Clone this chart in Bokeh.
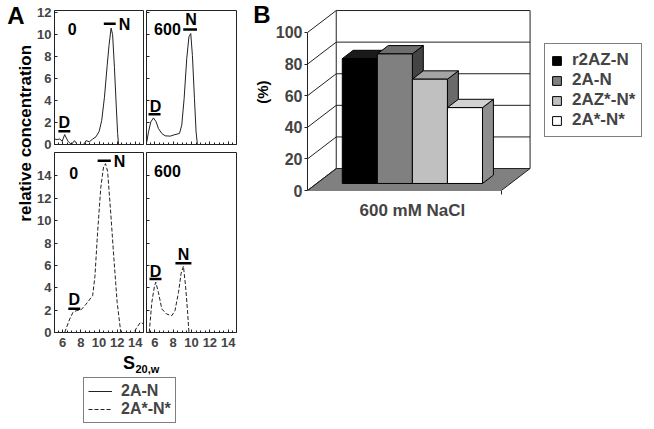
import math
from bokeh.plotting import figure
from bokeh.models import (Range1d, LinearAxis, FixedTicker, Label, Legend, LegendItem,
                          CustomJSTickFormatter)
from bokeh.layouts import row, column
from bokeh.embed import file_html
from bokeh.resources import INLINE

FONT = "Liberation Sans"

# ---------------- Panel A data (sedimentation profiles) ----------------
s_2AN_0 = [5.1, 5.4, 5.68, 5.95, 6.22, 6.59, 6.95, 7.3, 7.6, 8.03, 8.3, 8.58, 8.94, 9.31,
           9.67, 10.02, 10.3, 10.6, 10.9, 11.1, 11.33, 11.5, 11.7, 11.9, 12.05, 12.15]
c_2AN_0 = [0.5, 0.45, 0.5, 0.3, 0.9, 0.3, 0.0, 0.35, 0.0, 0.0, 0.0, 0.35, 0.25, 0.5,
           0.7, 1.2, 2.2, 4.3, 7.2, 9.0, 10.6, 10.0, 7.0, 3.5, 1.0, 0.0]

s_2AN_600 = [5.13, 5.32, 5.57, 5.86, 6.15, 6.4, 6.77, 7.13, 7.68, 8.2, 8.69, 8.94, 9.2,
             9.48, 9.72, 9.92, 10.1, 10.32, 10.5, 10.64]
c_2AN_600 = [0.24, 1.15, 2.06, 2.42, 2.06, 1.45, 1.0, 0.79, 0.76, 0.9, 1.0, 1.76, 4.2,
             7.8, 9.8, 10.1, 8.1, 4.2, 1.15, 0.0]

s_2AsNs_0 = [6.22, 6.77, 7.13, 7.49, 8.03, 8.58, 9.3, 9.55, 9.85, 10.2, 10.5, 10.72,
             10.95, 11.3, 11.65, 12.0, 12.4, 13.85, 14.2, 14.56, 14.85]
c_2AsNs_0 = [0.0, 1.2, 1.8, 1.95, 2.03, 2.54, 3.3, 5.0, 9.0, 13.0, 14.8, 15.1,
             14.4, 10.6, 6.5, 2.7, 0.0, 0.0, 0.5, 0.9, 0.8]

s_2AsNs_600 = [5.4, 5.68, 5.97, 6.11, 6.4, 6.77, 7.3, 7.85, 8.2, 8.58, 8.87, 9.12,
               9.35, 9.56, 9.72]
c_2AsNs_600 = [0.0, 2.7, 4.16, 4.5, 3.57, 2.1, 1.65, 1.5, 1.95, 3.57, 5.3, 5.93,
               4.2, 2.0, 0.0]

A_xticks = [6, 8, 10, 12, 14]
A_yticks_top = [0, 2, 4, 6, 8, 10, 12]
A_yticks_bot = [0, 2, 4, 6, 8, 10, 12, 14]
A_salt = ["0", "600"]
A_legend = ["2A-N", "2A*-N*"]

# ---------------- Panel B data ----------------
B_groups = ["r2AZ-N", "2A-N", "2AZ*-N*", "2A*-N*"]
B_values = [79, 82, 66, 48]
B_yticks = [0, 20, 40, 60, 80, 100]
B_category = "600 mM NaCl"
B_front = ["#000000", "#808080", "#c0c0c0", "#ffffff"]
B_top = ["#1a1a1a", "#6e6e6e", "#a4a4a4", "#d2d2d2"]
B_side = ["#000000", "#444444", "#6a6a6a", "#8e8e8e"]

LINE = "#222222"


def add_label(p, x, y, t, size=16, align="center", angle=0.0):
    p.add_layout(Label(x=x, y=y, text=t, text_font=FONT, text_font_style="bold",
                       text_font_size=f"{size}px", text_align=align,
                       text_baseline="middle", text_color="black", angle=angle))


def blank(width, height):
    p = figure(width=width, height=height, x_range=Range1d(0, width),
               y_range=Range1d(0, height), x_axis_type=None, y_axis_type=None,
               toolbar_location=None, output_backend="svg", min_border_left=0,
               min_border_right=0, min_border_top=0, min_border_bottom=0)
    p.outline_line_color = None
    return p


def panel(xs, ys, dash, ymax, yticks, width, height, bl, br, bt, bb, show_y, show_x):
    p = figure(width=width, height=height, x_range=Range1d(5.1, 14.9),
               y_range=Range1d(0, ymax), x_axis_type=None, y_axis_type=None,
               toolbar_location=None, output_backend="svg",
               min_border_left=bl, min_border_right=br, min_border_top=bt,
               min_border_bottom=bb)
    p.outline_line_color = LINE
    p.outline_line_width = 1
    xa = LinearAxis(ticker=FixedTicker(ticks=A_xticks,
                                       minor_ticks=[5.5 + 0.5 * k for k in range(19)]))
    xa.major_tick_in = 3
    xa.major_tick_out = 0
    xa.minor_tick_in = 2
    xa.minor_tick_out = 0
    xa.axis_line_color = LINE
    xa.major_tick_line_color = LINE
    xa.minor_tick_line_color = LINE
    xa.major_label_text_font = FONT
    xa.major_label_text_font_style = "bold"
    xa.major_label_text_font_size = "13px"
    if show_x:
        xa.major_label_standoff = 5
    else:
        xa.formatter = CustomJSTickFormatter(code="return ''")
        xa.major_label_standoff = 0
    p.add_layout(xa, "below")
    ya = LinearAxis(ticker=FixedTicker(ticks=yticks,
                                       minor_ticks=list(range(0, int(ymax) + 1))))
    ya.major_tick_in = 3
    ya.major_tick_out = 0
    ya.minor_tick_in = 0
    ya.minor_tick_out = 0
    ya.axis_line_color = LINE
    ya.major_tick_line_color = LINE
    ya.major_label_text_font = FONT
    ya.major_label_text_font_style = "bold"
    ya.major_label_text_font_size = "13px"
    if show_y:
        ya.major_label_standoff = 3
    else:
        ya.formatter = CustomJSTickFormatter(code="return ''")
        ya.major_label_standoff = 0
    p.add_layout(ya, "left")
    if dash:
        p.line(xs, ys, line_color=LINE, line_width=1, line_dash="4 2")
    else:
        p.line(xs, ys, line_color=LINE, line_width=1)
    return p


def bars(p, segs):
    p.segment(x0=[s[0] for s in segs], x1=[s[1] for s in segs],
              y0=[s[2] for s in segs], y1=[s[2] for s in segs],
              line_color="black", line_width=2.5)


# top-left: 2A-N, 0 mM
tl = panel(s_2AN_0, c_2AN_0, False, 12.2, A_yticks_top, 110, 152, 19, 1, 10, 8, True, False)
add_label(tl, 7.06, 10.48, A_salt[0])
add_label(tl, 12.82, 10.97, "N")
add_label(tl, 6.19, 2.03, "D")
bars(tl, [(10.53, 11.84, 11.0), (5.53, 6.84, 1.21)])

# top-right: 2A-N, 600 mM
tr = panel(s_2AN_600, c_2AN_600, False, 12.2, A_yticks_top, 96, 152, 2, 4, 10, 8, False, False)
add_label(tr, 7.38, 10.48, A_salt[1])
add_label(tr, 9.94, 11.39, "N")
add_label(tr, 6.08, 3.48, "D")
bars(tr, [(9.1, 10.6, 10.48), (5.32, 6.63, 2.75)])

# bottom-left: 2A*-N*, 0 mM
bl = panel(s_2AsNs_0, c_2AsNs_0, True, 16.1, A_yticks_bot, 110, 200, 19, 1, 0, 20, True, True)
add_label(bl, 7.22, 14.25, A_salt[0])
add_label(bl, 12.27, 15.3, "N")
add_label(bl, 7.27, 2.92, "D")
bars(bl, [(9.85, 11.3, 15.37), (6.62, 7.93, 2.12)])

# bottom-right: 2A*-N*, 600 mM
br = panel(s_2AsNs_600, c_2AsNs_600, True, 16.1, A_yticks_bot, 96, 200, 2, 4, 0, 20, False, True)
add_label(br, 7.38, 14.42, A_salt[1])
add_label(br, 9.12, 6.99, "N")
add_label(br, 6.08, 5.49, "D")
bars(br, [(8.25, 9.99, 6.2), (5.43, 6.73, 4.78)])

# strip with panel letter and y-axis title
strip = blank(34, 429)
add_label(strip, 15.5, 412.5, "A", size=24)
add_label(strip, 24.5, 285.5, "relative concentration", size=17, angle=math.pi / 2)

# bottom strip: x title and legend of panel A
bottom = blank(206, 77)
add_label(bottom, 94.5, 66.5, "S", size=18)
add_label(bottom, 101, 60.5, "20,w", size=11, align="left")
r_solid = bottom.line([-20, -10], [-20, -20], line_color=LINE, line_width=1)
r_dash = bottom.line([-20, -10], [-20, -20], line_color=LINE, line_width=1, line_dash="4 2")
legA = Legend(items=[LegendItem(label=A_legend[0], renderers=[r_solid]),
                     LegendItem(label=A_legend[1], renderers=[r_dash])],
              location=(49, 6))
legA.label_text_font = FONT
legA.label_text_font_style = "bold"
legA.label_text_font_size = "16px"
legA.glyph_width = 24
legA.glyph_height = 16
legA.label_height = 16
legA.label_standoff = 9
legA.padding = 4
legA.spacing = 0
legA.margin = 0
legA.border_line_color = "black"
legA.border_line_width = 1
legA.background_fill_alpha = 1
bottom.add_layout(legA)

# ---------------- Panel B: 3-D column chart ----------------
bstrip = blank(32, 222)
add_label(bstrip, 21.5, 205.5, "B", size=24)
add_label(bstrip, 22, 115, "(%)", size=15, angle=math.pi / 2)

DX, DY = 0.82, 13.9          # oblique depth offset (x units, percent)
D0, D1 = 0.32, 0.70          # bar depth span (fraction of floor depth)
BAR0 = 0.73                  # first bar left edge at depth 0
WF = 5.53                    # floor width
bx = figure(width=382, height=222, x_range=Range1d(0, 9.9), y_range=Range1d(0, 120.25),
            x_axis_type=None, y_axis_type=None, toolbar_location=None,
            output_backend="svg", min_border_left=33, min_border_right=0,
            min_border_top=0, min_border_bottom=32)
bx.outline_line_color = None

# floor
bx.patch([0, DX, DX + WF, WF], [0, DY, DY, 0], fill_color="#808080", line_color=LINE,
         line_width=1)
# back-wall gridlines and side-wall diagonals
bx.multi_line([[DX, DX + WF] for t in B_yticks[1:]],
              [[t + DY, t + DY] for t in B_yticks[1:]], line_color=LINE, line_width=1)
bx.multi_line([[0, DX] for t in B_yticks], [[t, t + DY] for t in B_yticks],
              line_color=LINE, line_width=1)
bx.segment(x0=[DX, DX + WF], x1=[DX, DX + WF], y0=[DY, DY],
           y1=[B_yticks[-1] + DY, B_yticks[-1] + DY], line_color=LINE, line_width=1)

# bars
pxs, pys, pcol = [], [], []
ddx, ddy = DX * (D1 - D0), DY * (D1 - D0)
for i, v in enumerate(B_values):
    xl = BAR0 + i + DX * D0
    xr = xl + 1
    yb = DY * D0
    yt = yb + v
    pxs += [[xr, xr, xr + ddx, xr + ddx], [xl, xr, xr + ddx, xl + ddx], [xl, xr, xr, xl]]
    pys += [[yb, yt, yt + ddy, yb + ddy], [yt, yt, yt + ddy, yt + ddy], [yb, yb, yt, yt]]
    pcol += [B_side[i], B_top[i], B_front[i]]
rb = bx.patches(pxs, pys, fill_color=pcol, line_color="black", line_width=1)

yaB = LinearAxis(ticker=FixedTicker(ticks=B_yticks), bounds=(0, 100))
yaB.major_tick_in = 0
yaB.major_tick_out = 3
yaB.minor_tick_in = 0
yaB.minor_tick_out = 0
yaB.axis_line_color = LINE
yaB.major_tick_line_color = LINE
yaB.major_label_text_font = FONT
yaB.major_label_text_font_style = "bold"
yaB.major_label_text_font_size = "16px"
yaB.major_label_standoff = 2
bx.add_layout(yaB, "left")

center = BAR0 + DX * D0 + len(B_values) / 2
xaB = LinearAxis(ticker=FixedTicker(ticks=[center], minor_ticks=[WF]),
                 formatter=CustomJSTickFormatter(args=dict(lab=B_category), code="return lab"))
xaB.axis_line_color = None
xaB.major_tick_in = 0
xaB.major_tick_out = 0
xaB.minor_tick_in = 0
xaB.minor_tick_out = 4
xaB.minor_tick_line_color = LINE
xaB.major_label_text_font = FONT
xaB.major_label_text_font_style = "bold"
xaB.major_label_text_font_size = "17px"
xaB.major_label_standoff = 6
bx.add_layout(xaB, "below")

legB = Legend(items=[LegendItem(label=g, renderers=[rb], index=3 * i + 2)
                     for i, g in enumerate(B_groups)], location=(237, 53))
legB.label_text_font = FONT
legB.label_text_font_style = "bold"
legB.label_text_font_size = "17px"
legB.glyph_width = 11
legB.glyph_height = 11
legB.label_standoff = 10
legB.padding = 6
legB.spacing = 0
legB.margin = 0
legB.border_line_color = "black"
legB.border_line_width = 1
bx.add_layout(legB)

layout = row(strip,
             column(row(tl, tr), row(bl, br), bottom),
             bstrip, bx)

open("out.html", "w").write(file_html(layout, INLINE))
